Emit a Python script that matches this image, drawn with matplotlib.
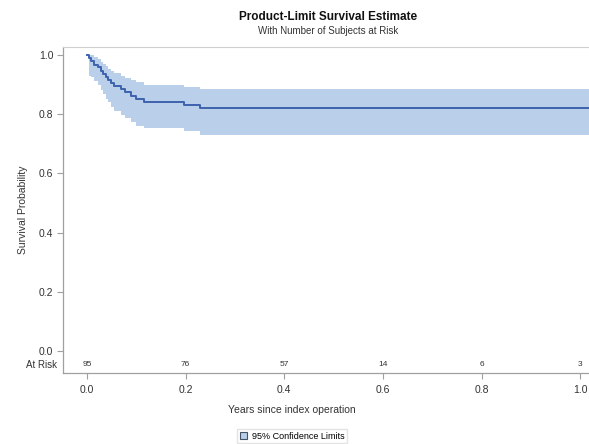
import numpy as np
import matplotlib
matplotlib.use('Agg')
import matplotlib.pyplot as plt
from matplotlib.patches import Patch

plt.rcParams['font.family'] = ['Liberation Sans', 'DejaVu Sans']

# Kaplan-Meier step values
times = [0.0, 0.003, 0.008, 0.014, 0.022, 0.028, 0.033, 0.038, 0.043, 0.048,
         0.055, 0.068, 0.078, 0.090, 0.100, 0.115, 0.197, 0.230, 1.02]
surv = [1.0, 0.989, 0.979, 0.968, 0.958, 0.947, 0.937, 0.926, 0.916, 0.905,
        0.895, 0.884, 0.874, 0.863, 0.853, 0.842, 0.831, 0.820, 0.820]
upper = [1.0, 1.0, 1.0, 0.995, 0.985, 0.978, 0.970, 0.962, 0.954, 0.946,
         0.938, 0.930, 0.922, 0.915, 0.908, 0.900, 0.892, 0.884, 0.884]
lower = [1.0, 0.93, 0.925, 0.912, 0.898, 0.882, 0.868, 0.853, 0.840, 0.826,
         0.812, 0.798, 0.786, 0.774, 0.762, 0.752, 0.742, 0.731, 0.731]

risk_times = [0.0, 0.2, 0.4, 0.6, 0.8, 1.0]
at_risk = ['95', '76', '57', '14', '6', '3']

band_col = '#b9cfea'
line_col = '#3d63ad'
grey = '#a0a0a0'

fig = plt.figure(figsize=(5.89, 4.44), dpi=100)
ax = fig.add_axes([0.107, 0.160, 0.893, 0.734])

ax.fill_between(times[1:], lower[1:], upper[1:], step='post', color=band_col, linewidth=0)
ax.step(times, surv, where='post', color=line_col, linewidth=1.4)

ax.set_xlim(-0.0487, 1.018)
ax.set_ylim(-0.074, 1.027)

ax.set_xticks([0.0, 0.2, 0.4, 0.6, 0.8, 1.0])
ax.set_xticklabels(['0.0', '0.2', '0.4', '0.6', '0.8', '1.0'], fontsize=7.5, color='#333333')
ax.set_yticks([0.0, 0.2, 0.4, 0.6, 0.8, 1.0])
ax.set_yticklabels(['0.0', '0.2', '0.4', '0.6', '0.8', '1.0'], fontsize=7.5, color='#333333')
ax.tick_params(axis='both', direction='out', length=4, width=0.8, color=grey, pad=3)
ax.tick_params(axis='x', pad=5)

for s in ['left', 'bottom']:
    ax.spines[s].set_color(grey)
    ax.spines[s].set_linewidth(0.9)
ax.spines['top'].set_color('#d0d0d0')
ax.spines['right'].set_visible(False)

# number at risk row inside the axes
for t, n in zip(risk_times, at_risk):
    ax.text(t, -0.047, n, ha='center', va='center', fontsize=6, color='#333333')
ax.text(-0.06, -0.047, 'At Risk', ha='right', va='center', fontsize=7, color='#333333',
        transform=ax.transData, clip_on=False)

ax.set_ylabel('Survival Probability', fontsize=7.5, color='#333333', labelpad=8)
fig.text(0.496, 0.076, 'Years since index operation', ha='center', va='center',
         fontsize=7.5, color='#333333')

fig.text(0.557, 0.962, 'Product-Limit Survival Estimate', ha='center', va='center',
         fontsize=8.5, fontweight='bold', color='#111111')
fig.text(0.557, 0.930, 'With Number of Subjects at Risk', ha='center', va='center',
         fontsize=7, color='#333333')

handle = Patch(facecolor=band_col, edgecolor='#445566', linewidth=0.8, label='95% Confidence Limits')
fig.legend(handles=[handle], loc='center', bbox_to_anchor=(0.496, 0.018), fontsize=6.5,
           frameon=True, edgecolor='#dddddd', fancybox=False, handlelength=0.8,
           handleheight=0.8, handletextpad=0.5, borderpad=0.3)

fig.savefig('out.png', dpi=100, facecolor='white')
